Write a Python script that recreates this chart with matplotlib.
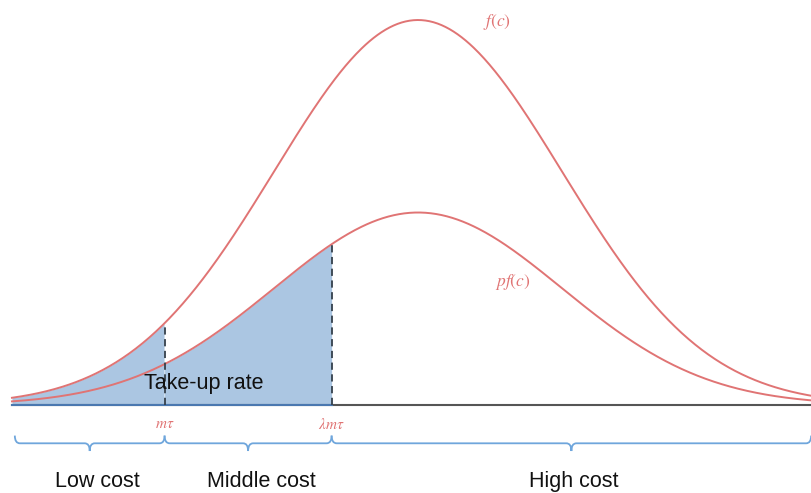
import numpy as np
import matplotlib.pyplot as plt
from matplotlib.path import Path
from matplotlib.patches import PathPatch

plt.rcParams['font.family'] = ['Liberation Sans', 'DejaVu Sans']
plt.rcParams['mathtext.fontset'] = 'stix'

# cost distribution (standardised cost units)
mean_cost = 0.0
sd_cost = 1.0
p_share = 0.5          # pf(c) = p * f(c)
m_tau = -1.76          # low / middle cost cutoff
lam_m_tau = -0.60      # middle / high cost cutoff
c_min, c_max = -2.82, 2.73

segment_names = ["Low cost", "Middle cost", "High cost"]
segment_edges = [c_min, m_tau, lam_m_tau, c_max]
label_pos = [-2.225, -1.09, 1.08]

red = '#e07474'
blue_fill = '#abc6e2'
brace_col = '#6fa6dc'


def f(c):
    return np.exp(-(c - mean_cost) ** 2 / (2 * sd_cost ** 2))


fig = plt.figure(figsize=(8.11, 4.93), dpi=100)
ax = fig.add_axes([0, 0, 1, 1])
ax.set_xlim(-2.903, 2.729)
ax.set_ylim(-0.2286, 1.052)
ax.axis('off')

c = np.linspace(c_min, c_max, 600)

# shaded take-up area
c1 = c[c <= m_tau]
ax.fill_between(c1, 0, f(c1), color=blue_fill, lw=0)
c2 = np.linspace(m_tau, lam_m_tau, 200)
ax.fill_between(c2, 0, p_share * f(c2), color=blue_fill, lw=0)

ax.plot(c, f(c), color=red, lw=1.4)
ax.plot(c, p_share * f(c), color=red, lw=1.4)

# baseline
ax.plot([c_min, c_max], [0, 0], color='#555555', lw=1.5, zorder=1)
ax.plot([c_min, lam_m_tau], [0, 0], color='#4a78b0', lw=1.5, zorder=2)

# cutoff lines
ax.plot([m_tau, m_tau], [0, f(m_tau)], color='#34404c', lw=1.3, ls=(0, (4, 2.5)))
ax.plot([lam_m_tau, lam_m_tau], [0, p_share * f(lam_m_tau)], color='#34404c', lw=1.3, ls=(0, (4, 2.5)))

ax.text(-1.486, 0.055, "Take-up rate", fontsize=15.5, ha='center', va='center', color='#111111')
ax.text(0.55, 0.995, r'$f(c)$', fontsize=12.5, color=red, ha='center', va='center')
ax.text(0.66, 0.32, r'$pf(c)$', fontsize=12.5, color=red, ha='center', va='center')
ax.text(m_tau, -0.05, r'$m\tau$', fontsize=11, color=red, ha='center', va='center')
ax.text(lam_m_tau, -0.05, r'$\lambda m\tau$', fontsize=11, color=red, ha='center', va='center')


def brace(x0, x1, y, h):
    xm = (x0 + x1) / 2
    r = 0.035
    verts = [(x0, y + h * 0.5), (x0, y), (x0 + r, y),
             (xm - r, y), (xm, y), (xm, y - h * 0.5),
             (xm, y), (xm + r, y),
             (x1 - r, y), (x1, y), (x1, y + h * 0.5)]
    codes = [Path.MOVETO, Path.CURVE3, Path.CURVE3,
             Path.LINETO, Path.CURVE3, Path.CURVE3,
             Path.CURVE3, Path.CURVE3,
             Path.LINETO, Path.CURVE3, Path.CURVE3]
    ax.add_patch(PathPatch(Path(verts, codes), fc='none', ec=brace_col, lw=1.3))


for i, name in enumerate(segment_names):
    x0, x1 = segment_edges[i], segment_edges[i + 1]
    brace(x0 + (0.02 if i == 0 else 0), x1, -0.0995, 0.04)
    ax.text(label_pos[i], -0.199, name, fontsize=15.5, ha='center', va='center', color='#111111')

fig.savefig('out.png', dpi=100)
